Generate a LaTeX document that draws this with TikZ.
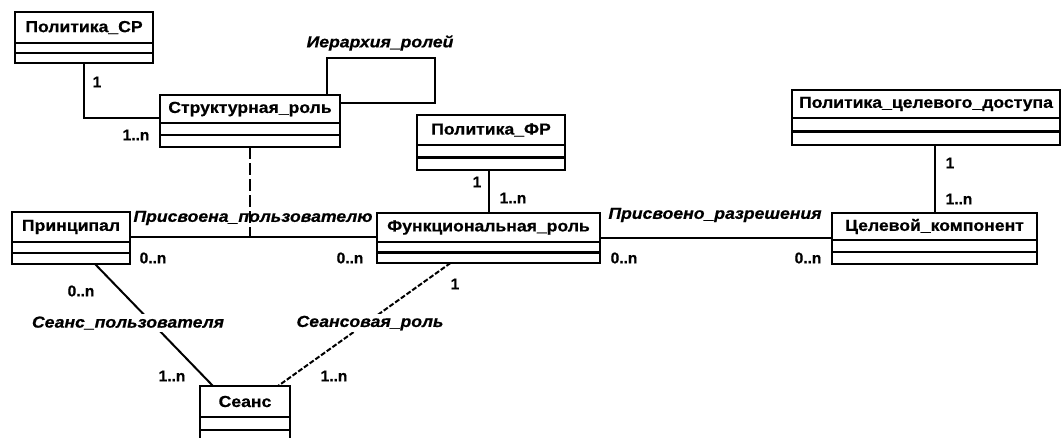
\documentclass[tikz,border=0pt]{standalone}
\usepackage{fontspec}
\setmainfont{Liberation Sans}[BoldFeatures={FakeBold=0.6}]
\newfontfamily\lblfont{Liberation Sans}[FakeStretch=1.1,BoldFeatures={FakeBold=0.6},BoldItalicFeatures={FakeBold=0.6}]
\begin{document}
\begin{tikzpicture}[x=1pt,y=-1pt,
  cls/.style={draw, line width=2.6pt, outer sep=0pt, inner sep=0pt, anchor=north west,
    font=\lblfont\bfseries\fontsize{16}{16}\selectfont},
  body/.style={draw, line width=2.6pt, outer sep=0pt, inner sep=0pt, anchor=north,
    path picture={\draw[line width=2.6pt] (path picture bounding box.west) -- (path picture bounding box.east);}},
  conn/.style={line width=2pt},
  mult/.style={font=\bfseries\fontsize{15.5}{16}\selectfont, inner sep=1pt},
  assoc/.style={font=\lblfont\bfseries\itshape\fontsize{16}{16}\selectfont, inner sep=1pt},
  gap/.style={fill=white, inner sep=2pt},
]
\useasboundingbox (0,0) rectangle (1063,437);

% classes
\node[cls, minimum width=138pt, minimum height=31pt] (pcr) at (15,12) {Политика\_СР};
\node[body, minimum width=138pt, minimum height=20pt] (pcrb) at (pcr.south) {};

\node[cls, minimum width=180pt, minimum height=28pt] (sr) at (160,95) {Структурная\_роль};
\node[body, minimum width=180pt, minimum height=24pt] (srb) at (sr.south) {};

\node[cls, minimum width=148pt, minimum height=30pt] (pfr) at (417,115) {Политика\_ФР};
\node[body, minimum width=148pt, minimum height=25pt] (pfrb) at (pfr.south) {};

\node[cls, minimum width=268pt, minimum height=28pt] (pcd) at (792,90) {Политика\_целевого\_доступа};
\node[body, minimum width=268pt, minimum height=27pt] (pcdb) at (pcd.south) {};

\node[cls, minimum width=118pt, minimum height=30pt] (pr) at (12,212) {Принципал};
\node[body, minimum width=118pt, minimum height=22pt] (prb) at (pr.south) {};

\node[cls, minimum width=223pt, minimum height=29pt] (fr) at (377,213) {Функциональная\_роль};
\node[body, minimum width=223pt, minimum height=21pt] (frb) at (fr.south) {};

\node[cls, minimum width=205pt, minimum height=27pt] (ck) at (832,213) {Целевой\_компонент};
\node[body, minimum width=205pt, minimum height=24pt] (ckb) at (ck.south) {};

\node[cls, minimum width=90pt, minimum height=31pt] (sn) at (200,386) {Сеанс};
\node[body, minimum width=90pt, minimum height=26pt] (snb) at (sn.south) {};

% helper coordinates on association lines
\path ([yshift=-10pt]pr.east) coordinate (u1);
\path ([yshift=-10pt]fr.east) coordinate (u2);

% connectors
\draw[conn] (pcrb.south) |- ([yshift=-9pt]sr.west);
\draw[conn] ([xshift=-13pt]sr.north east) -- ++(0,-37) -- ++(108,0) |- ([yshift=6pt]sr.east);
\draw[conn] (fr.north |- pfrb.south) -- (fr.north);
\draw[conn] (ck.north |- pcdb.south) -- (ck.north);
\draw[conn] (u1) -- (u1 -| fr.west);
\draw[conn] (u2) -- (u2 -| ck.west);
\draw[conn, dash pattern=on 12pt off 4pt] (srb.south) -- (srb.south |- u1);
\draw[conn] ([xshift=24pt]prb.south) -- ([xshift=-32pt]sn.north);
\draw[conn, dash pattern=on 5pt off 2pt] ([xshift=-38pt]frb.south) -- ([xshift=33pt]sn.north);

% labels
\node[mult] (m1) at (97,82) {1};
\node[mult] (m2) at (136,135) {1..n};
\node[assoc] (l1) at (380,43) {Иерархия\_ролей};
\node[mult] (m3) at (477,182) {1};
\node[mult] (m4) at (513,198) {1..n};
\node[mult] (m5) at (950,163) {1};
\node[mult] (m6) at (959,199) {1..n};
\node[assoc] (l2) at (253,218) {Присвоена\_пользователю};
\node[mult] (m7) at (153,258) {0..n};
\node[mult] (m8) at (350,258) {0..n};
\node[assoc] (l3) at (715,215) {Присвоено\_разрешения};
\node[mult] (m9) at (624,258) {0..n};
\node[mult] (m10) at (808,258) {0..n};
\node[mult] (m11) at (81,291) {0..n};
\node[assoc, gap] (l4) at (128,323) {Сеанс\_пользователя};
\node[assoc, gap] (l5) at (370,323) {Сеансовая\_роль};
\node[mult] (m12) at (455,284) {1};
\node[mult] (m13) at (172,376) {1..n};
\node[mult] (m14) at (334,376) {1..n};
\end{tikzpicture}
\end{document}
